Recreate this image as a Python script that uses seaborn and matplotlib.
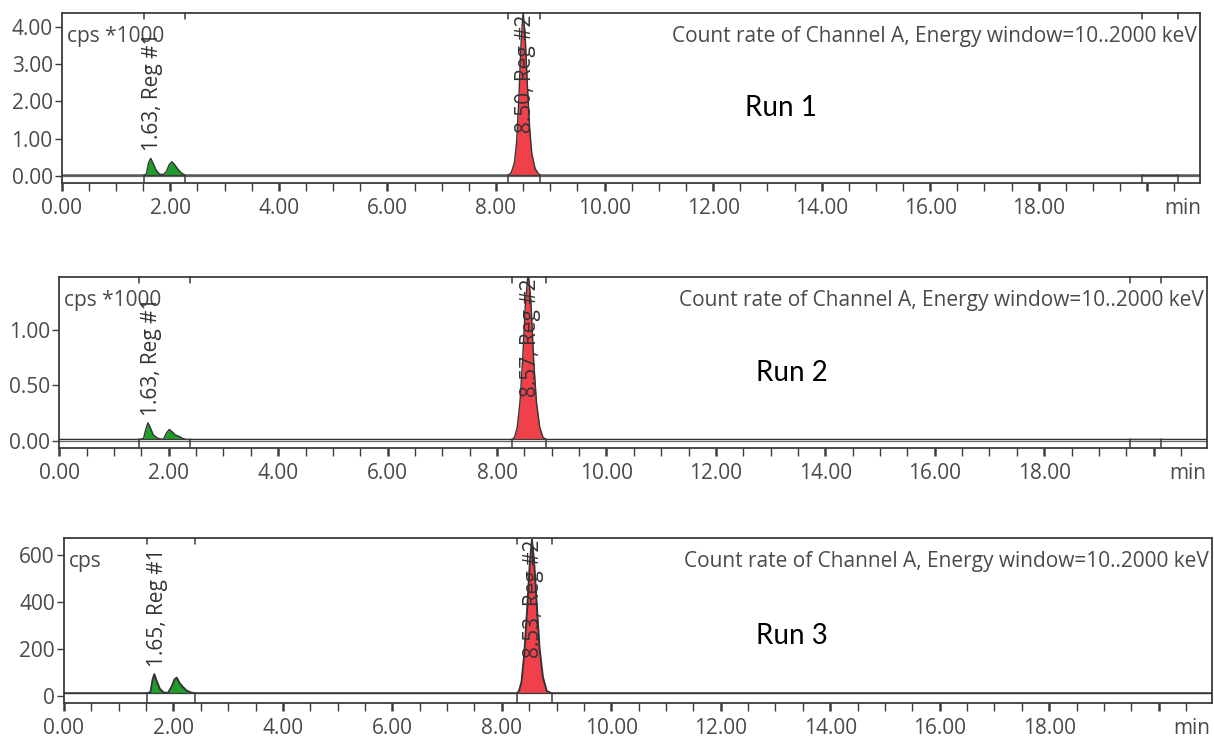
import matplotlib
matplotlib.use("Agg")
import matplotlib.pyplot as plt
import seaborn as sns
import pandas as pd
from matplotlib.ticker import MultipleLocator, FixedLocator, FixedFormatter

# ---------------- data ----------------
run_names = ["Run 1", "Run 2", "Run 3"]
unit_labels = ["cps *1000", "cps *1000", "cps"]
title_text = "Count rate of Channel A, Energy window=10..2000 keV"
x_major_ticks = [0, 2, 4, 6, 8, 10, 12, 14, 16, 18, 20]
x_major_labels = ["0.00", "2.00", "4.00", "6.00", "8.00", "10.00",
                  "12.00", "14.00", "16.00", "18.00", ""]
x_end_label = "min"
x_end_label_pos = [20.65, 20.63, 20.60]
x_max = 20.97

# Run 1 (cps * 1000)
run1_yticks = [0, 1, 2, 3, 4]
run1_ylabels = ["0.00", "1.00", "2.00", "3.00", "4.00"]
run1_ylim = (-0.20, 4.37)
run1_baseline = 0.02
run1_green_t = [1.52, 1.56, 1.60, 1.64, 1.68, 1.74, 1.80, 1.87, 1.93, 1.98, 2.03, 2.08, 2.14, 2.20, 2.27]
run1_green_y = [0.02, 0.05, 0.35, 0.47, 0.35, 0.15, 0.05, 0.03, 0.12, 0.30, 0.38, 0.30, 0.18, 0.08, 0.02]
run1_red_t = [8.23, 8.28, 8.34, 8.38, 8.42, 8.46, 8.50, 8.54, 8.58, 8.62, 8.66, 8.72, 8.78, 8.82]
run1_red_y = [0.02, 0.08, 0.35, 0.90, 2.00, 3.50, 4.40, 3.70, 2.40, 1.30, 0.60, 0.20, 0.06, 0.02]
run1_regions = [(1.52, 2.27), (8.23, 8.82), (19.91, 20.57)]
run1_peak_labels = ["1.63, Reg #1", "8.50, Reg #2"]
run1_peak_rt = [1.63, 8.50]

# Run 2 (cps * 1000)
run2_yticks = [0, 0.5, 1.0]
run2_ylabels = ["0.00", "0.50", "1.00"]
run2_ylim = (-0.07, 1.48)
run2_baseline = 0.01
run2_green_t = [1.46, 1.54, 1.58, 1.62, 1.66, 1.72, 1.80, 1.90, 1.96, 2.01, 2.06, 2.12, 2.18, 2.25, 2.32, 2.38]
run2_green_y = [0.01, 0.02, 0.10, 0.16, 0.12, 0.05, 0.02, 0.01, 0.07, 0.10, 0.08, 0.05, 0.04, 0.02, 0.01, 0.01]
run2_red_t = [8.28, 8.32, 8.37, 8.42, 8.47, 8.52, 8.57, 8.62, 8.67, 8.72, 8.78, 8.84, 8.89]
run2_red_y = [0.01, 0.03, 0.12, 0.35, 0.75, 1.25, 1.52, 1.25, 0.72, 0.35, 0.12, 0.03, 0.01]
run2_regions = [(1.46, 2.38), (8.28, 8.89), (19.56, 20.14)]
run2_peak_labels = ["1.63, Reg #1", "8.57, Reg #2"]
run2_peak_rt = [1.63, 8.57]

# Run 3 (cps)
run3_yticks = [0, 200, 400, 600]
run3_ylabels = ["0", "200", "400", "600"]
run3_ylim = (-32, 672)
run3_baseline = 11
run3_green_t = [1.51, 1.58, 1.62, 1.65, 1.69, 1.75, 1.82, 1.90, 1.97, 2.02, 2.06, 2.11, 2.17, 2.24, 2.32, 2.39]
run3_green_y = [11, 15, 70, 92, 65, 30, 14, 12, 40, 70, 77, 55, 38, 22, 14, 11]
run3_red_t = [8.27, 8.31, 8.36, 8.41, 8.46, 8.51, 8.55, 8.59, 8.64, 8.69, 8.75, 8.82, 8.91]
run3_red_y = [11, 18, 60, 180, 360, 560, 665, 570, 380, 200, 80, 20, 11]
run3_regions = [(1.51, 2.39), (8.27, 8.91)]
run3_peak_labels = ["1.65, Reg #1", "8.53, Reg #2"]
run3_peak_rt = [1.65, 8.53]

runs = [
    dict(yticks=run1_yticks, ylabels=run1_ylabels, ylim=run1_ylim, base=run1_baseline,
         gt=run1_green_t, gy=run1_green_y, rt=run1_red_t, ry=run1_red_y,
         regions=run1_regions, plabels=run1_peak_labels, prt=run1_peak_rt),
    dict(yticks=run2_yticks, ylabels=run2_ylabels, ylim=run2_ylim, base=run2_baseline,
         gt=run2_green_t, gy=run2_green_y, rt=run2_red_t, ry=run2_red_y,
         regions=run2_regions, plabels=run2_peak_labels, prt=run2_peak_rt),
    dict(yticks=run3_yticks, ylabels=run3_ylabels, ylim=run3_ylim, base=run3_baseline,
         gt=run3_green_t, gy=run3_green_y, rt=run3_red_t, ry=run3_red_y,
         regions=run3_regions, plabels=run3_peak_labels, prt=run3_peak_rt),
]

# ---------------- layout / style ----------------
W, H = 1214, 737
boxes = [(61.7, 1200.0, 13.0, 183.3),
         (59.3, 1206.7, 276.7, 448.3),
         (64.0, 1211.7, 538.0, 703.3)]
run_text_pos = [(781, 108), (792, 373), (792, 636)]
trace_widths = [1.0, 1.0, 1.4]

sns.set_theme(style="white")
plt.rcParams["font.family"] = ["Open Sans", "DejaVu Sans"]

TXT = "#4a4a4a"
SPINE = "#3c3c3c"
GREEN = "#1f9d2a"
RED = "#f0404a"
LINE = "#333333"
PX = 72.0 / 100.0  # points per pixel
FS = 15

fig = plt.figure(figsize=(W / 100, H / 100), dpi=100)
fig.patch.set_facecolor("white")

for i, (run, box) in enumerate(zip(runs, boxes)):
    l, r, t, b = box
    ax = fig.add_axes([l / W, (H - b) / H, (r - l) / W, (b - t) / H])
    ax.set_facecolor("white")
    ax_h_px = b - t

    base = run["base"]
    trace_t = [0.0] + run["gt"] + run["rt"] + [x_max]
    trace_y = [base] + run["gy"] + run["ry"] + [base]
    df = pd.DataFrame({"t": trace_t, "y": trace_y})

    ax.fill_between(run["gt"], base, run["gy"], color=GREEN, lw=0, zorder=2)
    ax.fill_between(run["rt"], base, run["ry"], color=RED, lw=0, zorder=2)

    if i < 2:
        ax.axhline(0, color="#666666", lw=0.9, zorder=2)

    sns.lineplot(data=df, x="t", y="y", ax=ax, color=LINE, lw=trace_widths[i],
                 estimator=None, sort=False, zorder=3)

    ax.set_xlim(0, x_max)
    ax.set_ylim(*run["ylim"])

    for (a, c) in run["regions"]:
        for xx in (a, c):
            ax.plot([xx, xx], [run["ylim"][0], base], color=SPINE, lw=1.1, zorder=4)
            ax.plot([xx, xx], [1.0, 1.0 - 6.0 / ax_h_px], color=SPINE, lw=1.1,
                    transform=ax.get_xaxis_transform(), zorder=4, clip_on=False)
        ax.plot([a, c], [base, base], color=SPINE, lw=0.9, zorder=4)

    ticks = x_major_ticks + [x_end_label_pos[i]]
    labels = x_major_labels + [x_end_label]
    ax.xaxis.set_major_locator(FixedLocator(ticks))
    ax.xaxis.set_major_formatter(FixedFormatter(labels))
    ax.xaxis.set_minor_locator(MultipleLocator(0.5))
    ax.set_yticks(run["yticks"])
    ax.set_yticklabels(run["ylabels"])
    ax.tick_params(axis="x", which="major", direction="out", length=8 * PX, width=1.8,
                   color=SPINE, labelsize=FS, labelcolor=TXT, pad=4.5, bottom=True)
    ax.tick_params(axis="x", which="minor", direction="out", length=8 * PX, width=1.0,
                   color=SPINE, bottom=True)
    ax.tick_params(axis="y", which="major", direction="out", length=7 * PX, width=1.0,
                   color=SPINE, labelsize=FS, labelcolor=TXT, pad=1.5, left=True)
    ax.xaxis.get_major_ticks()[-1].tick1line.set_visible(False)
    ax.set_xlabel("")
    ax.set_ylabel("")
    for s in ax.spines.values():
        s.set_color(SPINE)
        s.set_linewidth(1.3)
        s.set_visible(True)

    ax.annotate(unit_labels[i], xy=(0, 1), xycoords="axes fraction",
                xytext=(5 * PX, -29 * PX), textcoords="offset points",
                ha="left", va="baseline", fontsize=FS, color=TXT, zorder=5)
    ax.annotate(title_text, xy=(1, 1), xycoords="axes fraction",
                xytext=(-3 * PX, -29 * PX), textcoords="offset points",
                ha="right", va="baseline", fontsize=FS, color=TXT, zorder=5)

    ax.annotate(run["plabels"][0], xy=(run["prt"][0] + 0.05, max(run["gy"])),
                xytext=(0, 7 * PX), textcoords="offset points", rotation=90,
                ha="center", va="bottom", fontsize=FS, color="#333333", zorder=5)
    ax.annotate(run["plabels"][1], xy=(run["prt"][1] + 0.05, 1.0),
                xycoords=("data", "axes fraction"),
                xytext=(0, -2 * PX), textcoords="offset points", rotation=90,
                ha="center", va="top", fontsize=FS, color="#333333", zorder=5)

    fx, fy = run_text_pos[i]
    fig.text(fx / W, 1 - fy / H, run_names[i], ha="center", va="center",
             fontsize=20, color="black", family=["Lato", "DejaVu Sans"])

fig.savefig("out.png", dpi=100, facecolor="white")
